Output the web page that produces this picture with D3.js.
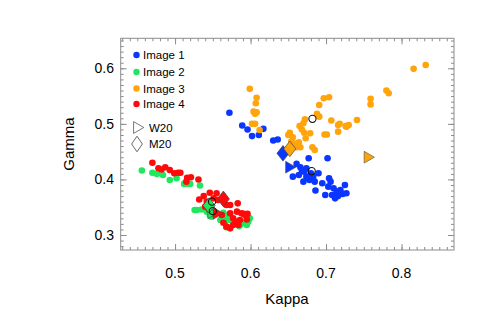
<!DOCTYPE html>
<meta charset="UTF-8">
<html>
<head>
	<title>Kappa vs Gamma</title>
	<script src="https://d3js.org/d3.v7.min.js"></script>
	<style>
		body { margin: 0; background: #fff; }
		text { font-family: "Liberation Sans", Arial, sans-serif; }
	</style>
</head>
<body>
	<svg id="plot" width="491" height="327"></svg>

	<script>
		// Values: [kappa, gamma]
		var image1 = [
			[0.572,0.520],[0.589,0.497],[0.596,0.490],[0.602,0.478],[0.611,0.480],[0.617,0.491],
			[0.630,0.470],[0.636,0.472],[0.677,0.438],[0.702,0.438],[0.661,0.428],[0.666,0.422],
			[0.656,0.405],[0.671,0.414],[0.674,0.405],[0.670,0.396],[0.678,0.399],[0.683,0.405],
			[0.685,0.396],[0.690,0.411],[0.674,0.420],[0.686,0.380],[0.695,0.393],[0.704,0.402],
			[0.706,0.396],[0.703,0.387],[0.710,0.384],[0.714,0.378],[0.719,0.381],[0.725,0.390],
			[0.727,0.375],[0.722,0.374],[0.716,0.370],[0.712,0.366],[0.708,0.372],[0.699,0.372],
			[0.680,0.411],[0.668,0.417],[0.676,0.402],[0.664,0.408]
		];
		var image2 = [
			[0.456,0.416],[0.470,0.412],[0.476,0.410],[0.484,0.408],[0.493,0.399],[0.502,0.402],
			[0.512,0.392],[0.516,0.392],[0.533,0.389],[0.513,0.393],[0.520,0.392],
			[0.529,0.345],[0.535,0.346],[0.542,0.342],[0.548,0.333],[0.568,0.333],[0.571,0.336],
			[0.573,0.327],[0.568,0.314],[0.577,0.320],[0.588,0.321],[0.595,0.318],[0.599,0.330],
			[0.597,0.324],[0.585,0.316],[0.566,0.324],[0.560,0.327],[0.564,0.340],[0.526,0.345],
			[0.546,0.336],[0.586,0.318],[0.593,0.322],[0.571,0.314]
		];
		var image3 = [
			[0.599,0.563],[0.608,0.547],[0.607,0.537],[0.604,0.522],[0.608,0.521],[0.606,0.518],
			[0.602,0.500],[0.606,0.500],[0.612,0.489],[0.665,0.496],[0.670,0.501],[0.672,0.508],
			[0.688,0.518],[0.691,0.513],[0.691,0.534],[0.697,0.546],[0.704,0.548],[0.707,0.506],
			[0.716,0.498],[0.726,0.496],[0.730,0.498],[0.741,0.507],[0.759,0.545],[0.759,0.535],
			[0.780,0.560],[0.783,0.555],[0.816,0.599],[0.832,0.606],[0.668,0.490],[0.671,0.484],
			[0.679,0.483],[0.673,0.474],[0.656,0.476],[0.652,0.484],[0.650,0.480],[0.654,0.468],
			[0.666,0.458],[0.682,0.458],[0.685,0.453],[0.698,0.481],[0.701,0.481],[0.661,0.458],
			[0.657,0.465],[0.664,0.467],[0.718,0.500],[0.716,0.486],[0.727,0.495]
		];
		var image4 = [
			[0.470,0.430],[0.478,0.420],[0.482,0.418],[0.487,0.422],[0.493,0.417],[0.499,0.411],
			[0.504,0.412],[0.516,0.403],[0.521,0.404],[0.531,0.400],[0.507,0.412],[0.515,0.396],
			[0.538,0.370],[0.532,0.364],[0.546,0.376],[0.555,0.375],[0.551,0.366],[0.557,0.363],
			[0.542,0.360],[0.540,0.351],[0.545,0.346],[0.551,0.339],[0.562,0.336],[0.573,0.339],
			[0.577,0.330],[0.583,0.357],[0.573,0.354],[0.582,0.342],[0.588,0.339],[0.593,0.336],
			[0.595,0.328],[0.586,0.327],[0.584,0.318],[0.577,0.318],[0.573,0.312],[0.568,0.315],
			[0.564,0.322],[0.580,0.324],[0.568,0.354],[0.596,0.338],[0.591,0.338]
		];
		// W20 (triangle) and M20 (diamond) per image
		var w20 = [[0.651,0.422],[0.548,0.340],[0.755,0.440],[0.555,0.339]];
		var m20 = [[0.643,0.447],[0.545,0.353],[0.652,0.455],[0.564,0.365]];
		// open black circles
		var centres = [[0.681,0.415],[0.549,0.360],[0.682,0.509],[0.550,0.343]];

		var names = ["Image 1","Image 2","Image 3","Image 4"];
		var colors = ["#0a36ff","#1fe85e","#ffa40a","#ff0a0a"];
		var xTicks = [0.5,0.6,0.7,0.8];
		var yTicks = [0.3,0.4,0.5,0.6];

		var svg = d3.select("#plot");
		var x = d3.scaleLinear().domain([0.428,0.8695]).range([120.7,454]);
		var y = d3.scaleLinear().domain([0.273,0.654]).range([250,38.3]);
		var frame = "#8c8c8c";

		// minor ticks every 0.01
		var xMinor = d3.range(43,87).map(function(d){ return d/100; });
		var yMinor = d3.range(28,66).map(function(d){ return d/100; });

		function axisStyle(g){
			g.select(".domain").remove();
			g.selectAll("line").attr("stroke", frame);
		}
		var ax = [
			[d3.axisBottom(x), "translate(0,250)", xMinor, xTicks],
			[d3.axisTop(x), "translate(0,38.3)", xMinor, xTicks],
			[d3.axisLeft(y), "translate(120.7,0)", yMinor, yTicks],
			[d3.axisRight(y), "translate(454,0)", yMinor, yTicks]
		];
		ax.forEach(function(a){
			svg.append("g").attr("transform", a[1])
				.call(a[0].tickValues(a[2]).tickSize(-3).tickFormat(""))
				.call(axisStyle);
			svg.append("g").attr("transform", a[1])
				.call(a[0].tickValues(a[3]).tickSize(-6).tickFormat(""))
				.call(axisStyle);
		});
		svg.append("rect")
			.attr("x", 120.7).attr("y", 38.3)
			.attr("width", 454-120.7).attr("height", 250-38.3)
			.attr("fill", "none").attr("stroke", frame).attr("stroke-width", 1);

		// tick labels
		svg.selectAll("xlab").data(xTicks).enter().append("text")
			.attr("x", function(d){ return x(d); }).attr("y", 278)
			.attr("text-anchor", "middle").style("font-size", "14px")
			.text(function(d){ return d3.format(".1f")(d); });
		svg.selectAll("ylab").data(yTicks).enter().append("text")
			.attr("x", 114).attr("y", function(d){ return y(d) + 5; })
			.attr("text-anchor", "end").style("font-size", "14px")
			.text(function(d){ return d3.format(".1f")(d); });

		svg.append("text").attr("x", 287).attr("y", 304)
			.attr("text-anchor", "middle").style("font-size", "15px").text("Kappa");
		svg.append("text")
			.attr("transform", "translate(74,144) rotate(-90)")
			.attr("text-anchor", "middle").style("font-size", "15px").text("Gamma");

		// data points
		[image1, image2, image3, image4].forEach(function(pts, i){
			svg.append("g").selectAll("circle")
				.data(pts).enter().append("circle")
				.attr("cx", function(d){ return x(d[0]); })
				.attr("cy", function(d){ return y(d[1]); })
				.attr("r", 3.3)
				.attr("fill", colors[i]);
		});

		var tri = d3.symbol().type(d3.symbolTriangle).size(60);
		var dia = d3.symbol().type(d3.symbolDiamond).size(70);
		svg.selectAll("w20").data(w20).enter().append("path")
			.attr("d", tri)
			.attr("transform", function(d){ return "translate(" + x(d[0]) + "," + y(d[1]) + ") rotate(90)"; })
			.attr("fill", function(d, i){ return colors[i]; })
			.attr("stroke", "#444").attr("stroke-width", 0.6);
		svg.selectAll("m20").data(m20).enter().append("path")
			.attr("d", dia)
			.attr("transform", function(d){ return "translate(" + x(d[0]) + "," + y(d[1]) + ") scale(1.35,1)"; })
			.attr("fill", function(d, i){ return colors[i]; })
			.attr("stroke", "#444").attr("stroke-width", 0.6);
		svg.selectAll("ctr").data(centres).enter().append("circle")
			.attr("cx", function(d){ return x(d[0]); })
			.attr("cy", function(d){ return y(d[1]); })
			.attr("r", 3.6)
			.attr("fill", "none").attr("stroke", "#111").attr("stroke-width", 1.1);

		// legend
		var legY = [55, 72, 88.5, 104];
		names.forEach(function(n, i){
			svg.append("circle").attr("cx", 136.5).attr("cy", legY[i]).attr("r", 3.2).attr("fill", colors[i]);
			svg.append("text").attr("x", 143).attr("y", legY[i] + 4)
				.style("font-size", "11.5px").text(n);
		});
		svg.append("path").attr("d", tri)
			.attr("transform", "translate(137,127.5) rotate(90)")
			.attr("fill", "none").attr("stroke", "#555").attr("stroke-width", 0.8);
		svg.append("text").attr("x", 149).attr("y", 131.5)
			.style("font-size", "11.5px").text("W20");
		svg.append("path").attr("d", dia)
			.attr("transform", "translate(137,144) scale(1.2,1)")
			.attr("fill", "none").attr("stroke", "#555").attr("stroke-width", 0.8);
		svg.append("text").attr("x", 149).attr("y", 148)
			.style("font-size", "11.5px").text("M20");
	</script>
</body>
</html>
